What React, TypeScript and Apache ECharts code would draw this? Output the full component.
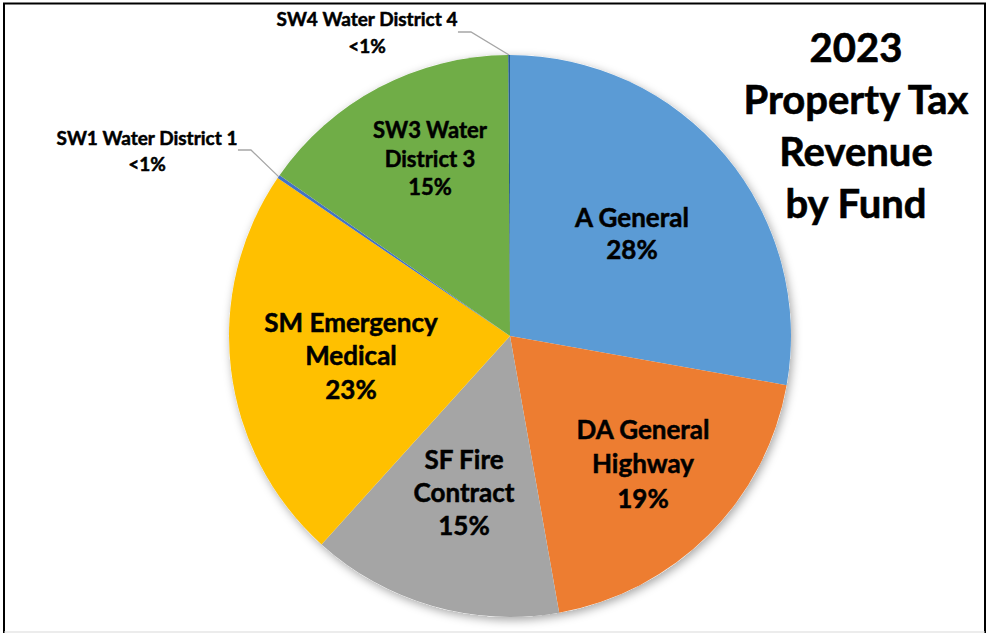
import React, { useEffect, useRef } from "react";
import * as echarts from "echarts";

// ---- data ----
const categories = [
  "A General",
  "DA General Highway",
  "SF Fire Contract",
  "SM Emergency Medical",
  "SW1 Water District 1",
  "SW3 Water District 3",
  "SW4 Water District 4",
];
const shares = [27.8, 19.4, 14.5, 22.8, 0.2, 15.2, 0.1];
const labelNameLines = [
  ["A General"],
  ["DA General", "Highway"],
  ["SF Fire", "Contract"],
  ["SM Emergency", "Medical"],
  ["SW1 Water District 1"],
  ["SW3 Water", "District 3"],
  ["SW4 Water District 4"],
];
const titleLines = ["2023", "Property Tax", "Revenue", "by Fund"];

// ---- styles / layout ----
const colors = ["#5B9BD5", "#ED7D31", "#A5A5A5", "#FFC000", "#4472C4", "#70AD47", "#255E91"];
const outsideIdx = [4, 6];
const labelSize = [26, 26, 26, 26, 19, 22, 19];
const labelLH = [32, 34.5, 33, 33.5, 26, 28.5, 27];
const labelBoxWidth = [0, 0, 0, 0, 166, 0, 180];
const labelPos = [
  [632, 233],
  [643, 463],
  [464, 492],
  [351, 355],
  [147, 150],
  [430, 158],
  [367, 32],
];
const FONT = "Lato, 'Open Sans', sans-serif";

export default function App() {
  const ref = useRef<HTMLDivElement>(null);
  useEffect(() => {
    document.body.style.margin = "0";
    const chart = echarts.init(ref.current!, null, { renderer: "svg" });
    const center = [510, 336];
    const radius = 281;
    const data = categories.map((name, i) => {
      const outside = outsideIdx.includes(i);
      const label: any = {
        position: outside ? "outside" : "inside",
        fontSize: labelSize[i],
        lineHeight: labelLH[i],
      };
      if (labelBoxWidth[i]) {
        label.width = labelBoxWidth[i];
        label.overflow = "none";
      }
      return {
        name,
        value: shares[i],
        itemStyle: { color: colors[i] },
        label,
        labelLine: { show: outside },
      };
    });
    chart.setOption({
      animation: false,
      backgroundColor: "#ffffff",
      graphic: [
        {
          type: "polyline",
          shape: { points: [[4, 633], [4, 3.5], [985, 3.5], [985, 633]] },
          style: { stroke: "#000", lineWidth: 2, fill: null },
          z: 10,
        },
        {
          type: "line",
          shape: { x1: 4, y1: 632, x2: 985, y2: 632 },
          style: { stroke: "#D9D9D9", lineWidth: 1 },
          z: 10,
        },
        {
          type: "text",
          x: 856,
          y: 21,
          style: {
            text: titleLines.join("\n"),
            align: "center",
            verticalAlign: "top",
            fontFamily: FONT,
            fontWeight: "bold",
            fontSize: 40,
            lineHeight: 52,
            fill: "#000",
            stroke: "#000",
            lineWidth: 0.6,
          },
        },
      ],
      series: [
        {
          type: "pie",
          center,
          radius,
          silent: true,
          z: 1,
          label: { show: false },
          labelLine: { show: false },
          itemStyle: {
            color: "#ffffff",
            shadowBlur: 10,
            shadowColor: "rgba(0,0,0,0.35)",
            shadowOffsetX: 2,
            shadowOffsetY: 3,
          },
          data: [{ value: 1, name: "shadow" }],
        },
        {
          type: "pie",
          center,
          radius,
          z: 2,
          startAngle: 90,
          clockwise: true,
          avoidLabelOverlap: false,
          itemStyle: { borderWidth: 0 },
          label: {
            show: true,
            color: "#000",
            fontFamily: FONT,
            fontWeight: "bold",
            textBorderColor: "#000",
            textBorderWidth: 0.5,
            formatter: (p: any) => {
              const pct = p.percent < 1 ? "<1%" : Math.round(p.percent) + "%";
              return [...labelNameLines[p.dataIndex], pct].join("\n");
            },
          },
          labelLine: {
            length: 10,
            length2: 13,
            smooth: false,
            lineStyle: { color: "#A6A6A6", width: 1.3 },
          },
          labelLayout: (params: any) => {
            const p = labelPos[params.dataIndex];
            return { x: p[0], y: p[1], align: "center", verticalAlign: "middle" };
          },
          data,
        },
      ],
    });
    return () => chart.dispose();
  }, []);
  return <div ref={ref} style={{ width: 987, height: 633 }} />;
}
